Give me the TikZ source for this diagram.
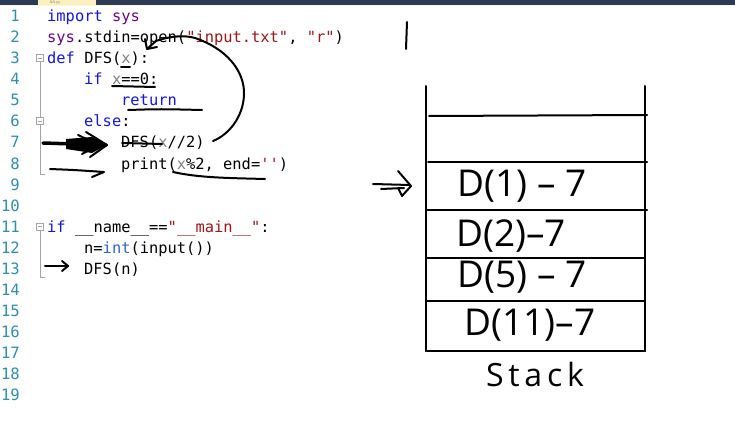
\documentclass[tikz,border=0pt]{standalone}
\usepackage{fontspec}
\setmonofont{DejaVu Sans Mono}
\newfontfamily\handfont{Open Sans}
\definecolor{navy}{RGB}{44,58,86}
\definecolor{tabcol}{RGB}{252,239,190}
\definecolor{tabline}{RGB}{253,246,214}
\definecolor{lncol}{RGB}{43,145,175}
\definecolor{kw}{RGB}{20,20,230}
\definecolor{sy}{RGB}{111,0,138}
\definecolor{st}{RGB}{163,21,21}
\definecolor{gx}{RGB}{128,128,128}
\definecolor{bi}{RGB}{43,100,220}
\definecolor{foldcol}{RGB}{165,165,165}
\begin{document}
\begin{tikzpicture}[x=1pt,y=-1pt,
  pen/.style={black,line width=2pt,line cap=round,line join=round},
  code/.style={anchor=base west,inner sep=0pt,font=\ttfamily\fontsize{15.4}{18}\selectfont},
  lnum/.style={anchor=base east,inner sep=0pt,text=lncol,font=\ttfamily\fontsize{15.6}{18}\selectfont},
  hand/.style={inner sep=0pt,font=\handfont\fontsize{37}{40}\selectfont},
  fold/.style={draw=foldcol,line width=0.8pt}]
\useasboundingbox (0,0) rectangle (735,422);
\fill[white] (0,0) rectangle (735,422);
% top bar
\fill[navy] (0,0) rectangle (735,5);
\fill[tabcol] (38,0) rectangle (96,5);
\node[anchor=center,inner sep=0pt,text=gray,font=\sffamily\fontsize{4}{4.5}\selectfont] (tab) at (55,2.6) {AA.py};
\draw[tabline,line width=1pt] (0,5.5) -- (735,5.5);
% line numbers
\foreach \n in {1,...,19} \node[lnum] (ln\n) at (20,{22+(\n-1)*21}) {\n};
% code
\node[code] (c1) at (47,22) {\textcolor{kw}{import} \textcolor{sy}{sys}};
\node[code] (c2) at (47,43) {\textcolor{sy}{sys}.stdin=open(\textcolor{st}{"input.txt"}, \textcolor{st}{"r"})};
\node[code] (c3) at (47,64) {\textcolor{kw}{def} DFS(\textcolor{gx}{x}):};
\node[code] (c4) at (84,85) {\textcolor{kw}{if} \textcolor{gx}{x}==0:};
\node[code] (c5) at (121,106) {\textcolor{kw}{return}};
\node[code] (c6) at (84,127) {\textcolor{kw}{else}:};
\node[code] (c7) at (121,148) {DFS(\textcolor{gx}{x}//2)};
\node[code] (c8) at (121,169) {print(\textcolor{gx}{x}\%2, end=\textcolor{st}{''})};
\node[code] (c11) at (47,232) {\textcolor{kw}{if} \_\_name\_\_==\textcolor{st}{"\_\_main\_\_"}:};
\node[code] (c12) at (84,253) {n=\textcolor{bi}{int}(input())};
\node[code] (c13) at (84,274) {DFS(n)};
% fold markers
\draw[fold,fill=white] (36.5,54.5) rectangle (43.5,61.5);
\draw[fold] (38,58) -- (42,58);
\draw[fold] (40,61.5) -- (40,117.5);
\draw[fold,fill=white] (36.5,117.5) rectangle (43.5,124.5);
\draw[fold] (38,121) -- (42,121);
\draw[fold] (40,124.5) -- (40,174) -- (45,174);
\draw[fold,fill=white] (36.5,223) rectangle (43.5,230);
\draw[fold] (38,226.5) -- (42,226.5);
\draw[fold] (40,230) -- (40,277) -- (45,277);
% handwritten annotations on code
\draw[pen] (147,49) -- (156,41) .. controls (170,36) and (185,35) .. (195,38)
  .. controls (225,48) and (245,70) .. (244,95)
  .. controls (243,118) and (228,135) .. (213,141);
\draw[pen] (145,39) -- (147,49) -- (157,47);
\draw[pen] (121,67) -- (130,67);
\draw[pen] (112,86) -- (155,87);
\draw[pen] (128,110) .. controls (160,109) .. (202,110);
\draw[pen] (122,143) -- (162,144);
\draw[pen] (173,172) .. controls (200,178) and (230,178) .. (265,179);
% left arrows
\draw[pen,line width=3.5pt] (43,143) -- (106,145);
\fill (66,139) -- (92,137) -- (107,145) -- (92,153) -- (66,149) -- cycle;
\draw[pen] (86,132) -- (107,145) -- (90,157);
\draw[pen] (78,135) -- (99,145) -- (82,154);
\draw[pen] (50,169) .. controls (75,170) .. (104,172) -- (92,177);
\draw[pen] (45,266) -- (68,266);
\draw[pen] (62,261) -- (68,266) -- (62,271);
% stack
\draw[pen] (407,22) -- (406,49);
\draw[pen] (426,86) -- (426,351);
\draw[pen] (645,86) -- (645,351);
\draw[pen] (429,116) -- (647,115);
\draw[pen] (428,162) -- (647,162);
\draw[pen] (426,210) -- (647,210);
\draw[pen] (426,258) -- (645,258);
\draw[pen] (426,301) -- (645,301);
\draw[pen] (426,351) -- (645,351);
\node[hand] (s1) at (522,186) {D(1) – 7};
\node[hand] (s2) at (511,236) {D(2)–7};
\node[hand] (s3) at (522,277) {D(5) – 7};
\node[hand] (s4) at (530,325) {D(11)–7};
\node[hand,font=\handfont\fontsize{32}{36}\selectfont\addfontfeatures{LetterSpace=15}] (stk) at (535,374) {Stack};
% arrow to stack
\draw[pen] (373,184) -- (410,185);
\draw[pen] (381,189) -- (404,188);
\draw[pen] (398,171) -- (411,186) -- (402,196) -- (398,188);
\end{tikzpicture}
\end{document}
